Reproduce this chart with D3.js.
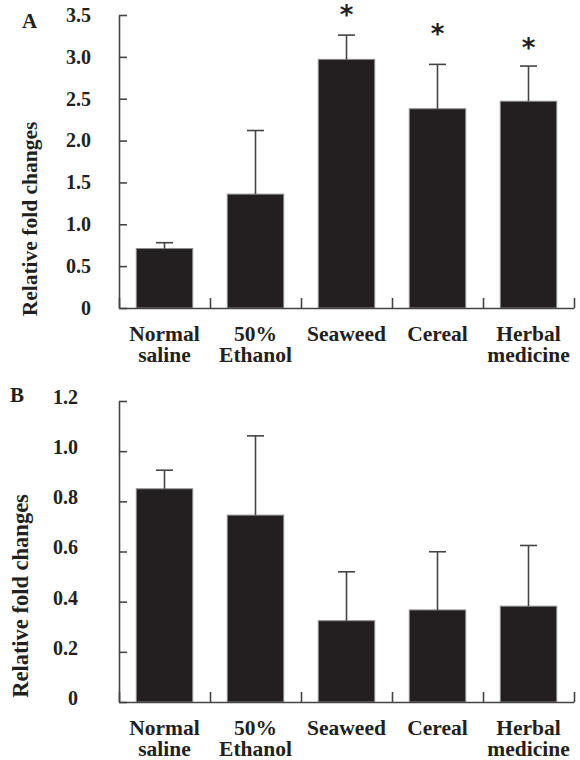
<!DOCTYPE html>
<html>
<head>
<meta charset="utf-8">
<script src="https://cdn.jsdelivr.net/npm/d3@7"></script>
<style>
  body { margin: 0; background: #fff; }
  svg { display: block; }
</style>
</head>
<body>
<svg id="chart" width="580" height="760"></svg>
<script>
// ============= Data =============
const categories = [
  ["Normal", "saline"],
  ["50%", "Ethanol"],
  ["Seaweed"],
  ["Cereal"],
  ["Herbal", "medicine"],
];

const meansA = [0.71, 1.36, 2.97, 2.38, 2.47];
const errorsA = [0.07, 0.76, 0.29, 0.53, 0.42];
// y value where the significance asterisk sits (null = none)
const starsA = [null, null, 3.58, 3.36, 3.19];
const ticksA = [0, 0.5, 1.0, 1.5, 2.0, 2.5, 3.0, 3.5];

const meansB = [0.85, 0.745, 0.324, 0.367, 0.382];
const errorsB = [0.074, 0.316, 0.195, 0.232, 0.242];
const starsB = [null, null, null, null, null];
const ticksB = [0, 0.2, 0.4, 0.6, 0.8, 1.0, 1.2];

const AXIS_COLOR = "#444";
const BAR_COLOR = "#231f20";
const TEXT_COLOR = "#231f20";
const SERIF = "'Liberation Serif', 'Times New Roman', serif";

const svg = d3.select("#chart");

/**
 * Draws one bar panel
 */
const drawPanel = (opts) => {
  const { letter, means, errors, stars, ticks, yTop, yBottom, xLeft, xRight,
    tickLabelX, tickDy, titleX, titleY, titleSize, letterX, letterY } = opts;

  const g = svg.append("g");
  const maxTick = ticks[ticks.length - 1];

  const yScale = d3.scaleLinear().domain([0, maxTick]).range([yBottom, yTop]);
  const xScale = d3.scaleBand()
    .domain(d3.range(categories.length))
    .range([xLeft, xRight])
    .paddingInner(0.38)
    .paddingOuter(0.19);
  const xEdge = d3.scaleLinear().domain([0, categories.length]).range([xLeft, xRight]);
  const xMid = (i) => xScale(i) + xScale.bandwidth() / 2;

  // bars
  g.selectAll(".bar")
    .data(means)
    .enter()
    .append("rect")
    .attr("class", "bar")
    .attr("x", (d, i) => xScale(i))
    .attr("width", xScale.bandwidth())
    .attr("y", (d) => yScale(d))
    .attr("height", (d) => yBottom - yScale(d))
    .attr("fill", BAR_COLOR)
    .attr("stroke", "#8c8c8c")
    .attr("stroke-width", 1);

  // error bars (upper only)
  const capW = 17;
  const errG = g.selectAll(".err")
    .data(means)
    .enter()
    .append("g")
    .attr("class", "err")
    .attr("stroke", AXIS_COLOR)
    .attr("stroke-width", 1.6);
  errG.append("line")
    .attr("x1", (d, i) => xMid(i))
    .attr("x2", (d, i) => xMid(i))
    .attr("y1", (d) => yScale(d))
    .attr("y2", (d, i) => yScale(d + errors[i]));
  errG.append("line")
    .attr("x1", (d, i) => xMid(i) - capW / 2)
    .attr("x2", (d, i) => xMid(i) + capW / 2)
    .attr("y1", (d, i) => yScale(d + errors[i]))
    .attr("y2", (d, i) => yScale(d + errors[i]));

  // asterisks
  g.selectAll(".star")
    .data(stars.map((s, i) => ({ s, i })).filter((d) => d.s !== null))
    .enter()
    .append("text")
    .attr("class", "star")
    .attr("x", (d) => xMid(d.i))
    .attr("y", (d) => yScale(d.s) + 16)
    .attr("text-anchor", "middle")
    .style("font-family", "'DejaVu Sans', sans-serif")
    .style("font-weight", "bold")
    .style("font-size", "26px")
    .style("fill", TEXT_COLOR)
    .text("*");

  // y axis
  const yAxis = g.append("g")
    .attr("transform", `translate(${xLeft},0)`)
    .call(d3.axisLeft(yScale)
      .tickValues(ticks)
      .tickSizeInner(-8)
      .tickSizeOuter(0)
      .tickPadding(xLeft - tickLabelX)
      .tickFormat((d) => (d === 0 ? "0" : d3.format(".1f")(d))));

  // x axis with upward ticks at category boundaries
  const xAxis = g.append("g")
    .attr("transform", `translate(0,${yBottom})`)
    .call(d3.axisBottom(xEdge)
      .tickValues(d3.range(categories.length + 1))
      .tickSizeInner(-10)
      .tickSizeOuter(0)
      .tickFormat(""));

  [xAxis, yAxis].forEach((axis) => {
    axis.selectAll("path, line").attr("stroke", AXIS_COLOR).attr("stroke-width", 1.6);
  });
  yAxis.selectAll("text")
    .attr("dy", tickDy)
    .style("font-family", SERIF)
    .style("font-weight", "bold")
    .style("font-size", "20px")
    .style("fill", TEXT_COLOR);

  // category labels
  const labels = g.selectAll(".cat")
    .data(categories)
    .enter()
    .append("text")
    .attr("class", "cat")
    .attr("x", (d, i) => xMid(i))
    .attr("y", yBottom + 33)
    .attr("text-anchor", "middle")
    .style("font-family", SERIF)
    .style("font-weight", "bold")
    .style("font-size", "21.5px")
    .style("fill", TEXT_COLOR);
  labels.selectAll("tspan")
    .data((d) => d)
    .enter()
    .append("tspan")
    .attr("x", function () { return d3.select(this.parentNode).attr("x"); })
    .attr("dy", (d, j) => (j === 0 ? 0 : 20.5))
    .text((d) => d);

  // y title
  g.append("text")
    .attr("transform", `translate(${titleX},${titleY}) rotate(-90)`)
    .attr("text-anchor", "middle")
    .style("font-family", SERIF)
    .style("font-weight", "bold")
    .style("font-size", titleSize)
    .style("fill", TEXT_COLOR)
    .text("Relative fold changes");

  // panel letter
  g.append("text")
    .attr("x", letterX)
    .attr("y", letterY)
    .style("font-family", SERIF)
    .style("font-weight", "bold")
    .style("font-size", "21px")
    .style("fill", TEXT_COLOR)
    .text(letter);
};

drawPanel({
  letter: "A", means: meansA, errors: errorsA, stars: starsA, ticks: ticksA,
  yTop: 15, yBottom: 308, xLeft: 119, xRight: 574,
  tickLabelX: 91, tickDy: "0.32em", titleX: 37, titleY: 219, titleSize: "21.5px",
  letterX: 22, letterY: 28,
});

drawPanel({
  letter: "B", means: meansB, errors: errorsB, stars: starsB, ticks: ticksB,
  yTop: 401, yBottom: 702, xLeft: 119, xRight: 574,
  tickLabelX: 78, tickDy: "0.12em", titleX: 28, titleY: 596, titleSize: "22.5px",
  letterX: 10, letterY: 402,
});
</script>
</body>
</html>
